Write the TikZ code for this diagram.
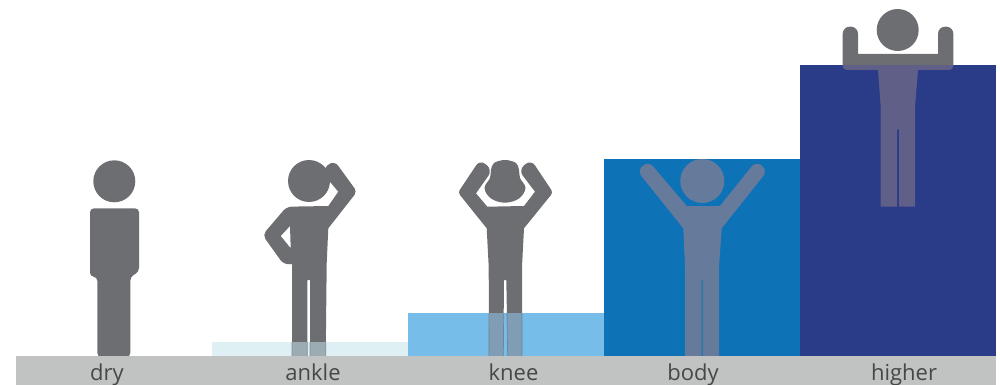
\documentclass[tikz,border=0pt]{standalone}
\usepackage{fontspec}
\setmainfont{Open Sans}
\usetikzlibrary{calc}
\definecolor{figgray}{HTML}{6D6E71}
\definecolor{bandgray}{HTML}{C1C3C3}
\definecolor{ankwater}{HTML}{DFF0F5}
\definecolor{knewater}{HTML}{76BEE9}
\definecolor{bodwater}{HTML}{0E72B7}
\definecolor{higwater}{HTML}{2A3B87}
\definecolor{ankleg}{HTML}{9BACB2}
\definecolor{kneleg}{HTML}{7F9DB4}
\definecolor{bodfig}{HTML}{667A9B}
\definecolor{higfig}{HTML}{5F5F87}
\newcommand{\ankleshape}{(292,357) -- (292,280) -- (292,264) [rounded corners=6] -- (284,265) [rounded corners=5] -- (262.5,235) -- (286.7,206.7) [sharp corners] -- (328.3,206) -- (338.3,191.7) -- (325,176) [rounded corners=7] -- (322,170) -- (334,160) [rounded corners=4] -- (357,191.7) [sharp corners] -- (328.3,228.3) -- (326.7,263) -- (325.7,357) -- (310,357) -- (310,280) -- (307.3,280) -- (307.3,357) -- cycle (290,226) -- (280.7,236) -- (290.7,248.3) -- cycle}
\newcommand{\kneeshape}{(489,357) -- (488.7,266.7) -- (486.7,228.3) [rounded corners=3] -- (458,192.5) [rounded corners=7] -- (480,159.5) -- (492.5,170) [sharp corners] -- (476,193.3) -- (487.3,206.7) -- (524,206) -- (535,191.7) [rounded corners=7] -- (518.5,170) -- (531,159.5) [rounded corners=3] -- (553,192.5) [sharp corners] -- (524,228.3) -- (522,266.7) -- (522,357) -- (507.7,357) -- (506.3,280) -- (504,280) -- (503.3,357) -- cycle}
\newcommand{\bodyshape}{(685,357) -- (685,266.7) -- (683.3,228.3) [rounded corners=7] -- (637,170.5) -- (648.5,161) [sharp corners] -- (686.7,206) -- (720,206) [rounded corners=7] -- (756,161) -- (767.6,170.5) [sharp corners] -- (721.7,228.3) -- (719,266.7) -- (719,357) -- (702.7,357) -- (702.7,280) -- (701.7,280) -- (701.7,357) -- cycle}
\newcommand{\highershape}{(880.7,206.7) -- (880.7,106.7) -- (878,70) [rounded corners=4] -- (842.7,70) [sharp corners,rounded corners=7] -- (842.7,26.7) -- (858,26.7) [sharp corners] -- (858,54) -- (938,54) [rounded corners=7] -- (938,26.7) -- (953.3,26.7) [rounded corners=4] -- (953.3,70) [sharp corners] -- (918,70) -- (915,106.7) -- (915,206.7) -- (899,206.7) -- (899,129.3) -- (897,129.3) -- (897,206.7) -- cycle}
\begin{document}
\begin{tikzpicture}[x=1pt,y=-1pt,
    figshape/.style={fill=figgray,even odd rule},
    wetedge/.style={line width=0.7pt},
    label/.style={anchor=base,text=black!72,font=\fontsize{22}{22}\selectfont,inner sep=0pt}]
  \useasboundingbox (0,0) rectangle (1000,385);
  % people
  \fill[figgray] (114.3,181.3) circle (21);
  \fill[figgray,rounded corners=4] (90,208.3) -- (139,208.3) -- (139,272) -- (130.3,276.7) -- (130.3,357) -- (97.3,357) -- (97.3,276.7) -- (90,276.7) -- cycle;
  \fill[figgray] (309,181) circle (21);
  \fill[figshape] \ankleshape;
  \fill[figgray] plot[smooth cycle,tension=0.6] coordinates {(505,160) (516,163) (519,170) (520,178) (525.5,188) (519,198.5) (505,202.7) (491,198.5) (484.5,188) (490,178) (491,170) (494,163)};
  \fill[figshape] \kneeshape;
  \fill[figgray] (897.7,30) circle (21);
  \fill[figshape] \highershape;
  % water
  \fill[ankwater] (212,342) rectangle (408,357);
  \fill[knewater] (408,313) rectangle (604,357);
  \fill[bodwater] (604,159) rectangle (800,357);
  \fill[higwater] (800,65.5) rectangle (996,357);
  % parts of the people under water
  \begin{scope}
    \clip (212,342) rectangle (408,357);
    \filldraw[fill=ankleg,draw=ankleg!85!black,wetedge,even odd rule] \ankleshape;
  \end{scope}
  \begin{scope}
    \clip (408,313) rectangle (604,357);
    \filldraw[fill=kneleg,draw=kneleg!85!black,wetedge,even odd rule] \kneeshape;
  \end{scope}
  \fill[bodfig] (702.3,181) circle (22);
  \fill[bodfig] \bodyshape;
  \begin{scope}
    \clip (800,65.5) rectangle (996,357);
    \fill[higfig] \highershape;
  \end{scope}
  % ground
  \fill[bandgray] (16,356) rectangle (996,385);
  \node[label] (dry) at (107,380.7) {dry};
  \node[label] (ankle) at (313,380.7) {ankle};
  \node[label] (knee) at (513.5,380.7) {knee};
  \node[label] (body) at (693,380.7) {body};
  \node[label] (higher) at (904,380.7) {higher};
\end{tikzpicture}
\end{document}
